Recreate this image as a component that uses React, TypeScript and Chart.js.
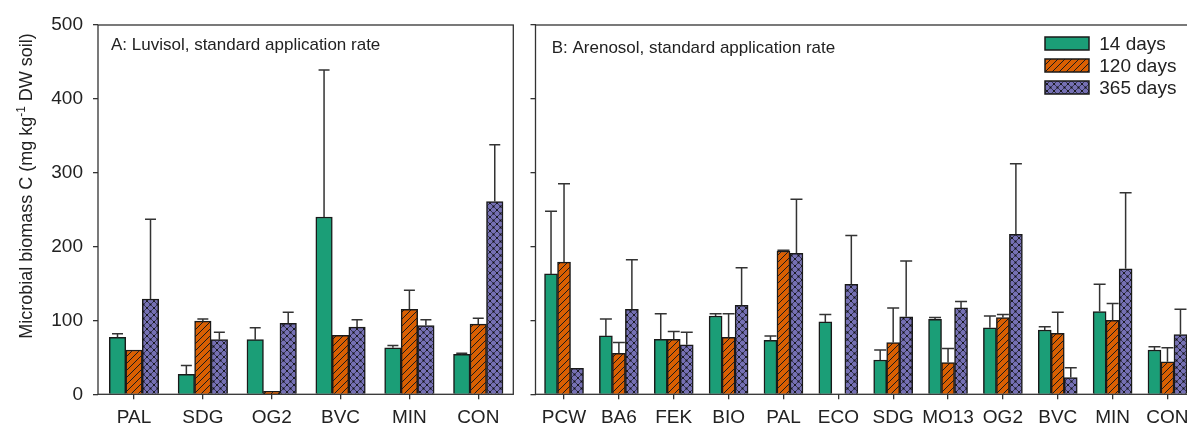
import React, { useEffect, useRef } from 'react';
import { Chart, registerables } from 'chart.js';

Chart.register(...registerables);

const FONT = '"Liberation Sans", Arial, Helvetica, sans-serif';

const SERIES = ['14 days', '120 days', '365 days'];
const Y_TICKS = [0, 100, 200, 300, 400, 500];

// Panel A: Luvisol
const LUV_CATS = ['PAL', 'SDG', 'OG2', 'BVC', 'MIN', 'CON'];
const LUV_D14 = [77, 27, 74, 240, 63, 54];
const LUV_D14_ERR = [5, 12, 16, 199, 3, 1.5];
const LUV_D120 = [60, 99, 4, 80, 115, 95];
const LUV_D120_ERR = [0, 3, 0, 0, 26, 8];
const LUV_D365 = [129, 74, 96, 91, 93, 261];
const LUV_D365_ERR = [108, 10, 15, 10, 8, 77];

// Panel B: Arenosol
const ARE_CATS = ['PCW', 'BA6', 'FEK', 'BIO', 'PAL', 'ECO', 'SDG', 'MO13', 'OG2', 'BVC', 'MIN', 'CON'];
const ARE_D14 = [163, 79, 74.5, 106, 73, 98, 46.5, 101.5, 90, 87, 112, 60];
const ARE_D14_ERR = [85, 23, 34.5, 3, 6, 10, 13.5, 2.5, 16, 4.6, 37, 4.5];
const ARE_D120 = [179, 55.5, 74.5, 77, 194, null, 70, 43, 104, 82.6, 100, 44];
const ARE_D120_ERR = [106, 14.5, 10.5, 32, 1, 0, 47, 19, 4, 28.4, 23, 19];
const ARE_D365 = [35, 115, 67, 120.5, 191, 149, 105, 117, 216.6, 22.6, 170, 81];
const ARE_D365_ERR = [0, 67, 17, 51, 73, 66, 75.5, 8.5, 95.4, 13.4, 103, 34];

const GREEN = '#1b9e77';
const ORANGE = '#d95f02';
const PURPLE = '#7570b3';

function makeHatch(color: string) {
  const s = 7;
  const c = document.createElement('canvas');
  c.width = s; c.height = s;
  const g = c.getContext('2d')!;
  g.fillStyle = color; g.fillRect(0, 0, s, s);
  g.strokeStyle = '#1a1a1a'; g.lineWidth = 1;
  g.beginPath();
  g.moveTo(-1, s + 1); g.lineTo(s + 1, -1);
  g.moveTo(-1, 1); g.lineTo(1, -1);
  g.moveTo(s - 1, s + 1); g.lineTo(s + 1, s - 1);
  g.stroke();
  return g.createPattern(c, 'repeat')!;
}

function makeCross(color: string) {
  const s = 7;
  const c = document.createElement('canvas');
  c.width = s; c.height = s;
  const g = c.getContext('2d')!;
  g.fillStyle = color; g.fillRect(0, 0, s, s);
  g.strokeStyle = '#2a2a40'; g.lineWidth = 0.8;
  g.beginPath();
  g.moveTo(-1, s + 1); g.lineTo(s + 1, -1);
  g.moveTo(-1, 1); g.lineTo(1, -1);
  g.moveTo(s - 1, s + 1); g.lineTo(s + 1, s - 1);
  g.moveTo(-1, -1); g.lineTo(s + 1, s + 1);
  g.moveTo(s - 1, -1); g.lineTo(s + 1, 1);
  g.moveTo(-1, s - 1); g.lineTo(1, s + 1);
  g.stroke();
  g.fillStyle = '#111';
  const pts = [[s / 2, s / 2], [0, 0], [s, 0], [0, s], [s, s]];
  pts.forEach(([x, y]) => { g.beginPath(); g.arc(x, y, 1, 0, Math.PI * 2); g.fill(); });
  return g.createPattern(c, 'repeat')!;
}

const errPlugin = {
  id: 'errbars',
  afterDatasetsDraw(chart: any, _a: any, o: any) {
    const { ctx } = chart;
    const ys = chart.scales.y;
    ctx.save();
    ctx.strokeStyle = '#333';
    ctx.lineWidth = 1.5;
    chart.data.datasets.forEach((ds: any, di: number) => {
      const meta = chart.getDatasetMeta(di);
      const errs = o.errors[di];
      meta.data.forEach((bar: any, i: number) => {
        const v = ds.data[i].y;
        const e = errs[i];
        if (v == null || !e) return;
        const top = ys.getPixelForValue(v + e);
        ctx.beginPath();
        ctx.moveTo(bar.x, bar.y);
        ctx.lineTo(bar.x, top);
        ctx.moveTo(bar.x - o.cap / 2, top);
        ctx.lineTo(bar.x + o.cap / 2, top);
        ctx.stroke();
      });
    });
    ctx.restore();
  },
};

const decorPlugin = {
  id: 'decor',
  afterDraw(chart: any, _a: any, o: any) {
    const { ctx, chartArea: ca } = chart;
    ctx.save();
    ctx.strokeStyle = '#333';
    ctx.lineWidth = 1.3;
    ctx.strokeRect(ca.left, ca.top, ca.right - ca.left, ca.bottom - ca.top);

    ctx.fillStyle = '#222';
    ctx.font = `17px ${FONT}`;
    ctx.textAlign = 'left';
    ctx.textBaseline = 'alphabetic';
    ctx.fillText(o.label, o.labelX, o.labelY);

    if (o.yTitle) {
      const segs = [
        { t: 'Microbial biomass C (mg kg', f: `18px ${FONT}`, dy: 0 },
        { t: '-1', f: `12px ${FONT}`, dy: -7 },
        { t: ' DW soil)', f: `18px ${FONT}`, dy: 0 },
      ];
      let total = 0;
      segs.forEach((s) => { ctx.font = s.f; total += ctx.measureText(s.t).width; });
      ctx.translate(o.yTitleX, o.yTitleY);
      ctx.rotate(-Math.PI / 2);
      let u = -total / 2;
      segs.forEach((s) => {
        ctx.font = s.f;
        ctx.fillText(s.t, u, s.dy);
        u += ctx.measureText(s.t).width;
      });
      ctx.setTransform(1, 0, 0, 1, 0, 0);
    }

    if (o.legend) {
      const L = o.legend;
      chart.data.datasets.forEach((ds: any, i: number) => {
        const y = L.y + i * L.dy;
        ctx.fillStyle = ds.backgroundColor;
        ctx.fillRect(L.x, y, L.w, L.h);
        ctx.strokeStyle = '#1a1a1a';
        ctx.lineWidth = 1.5;
        ctx.strokeRect(L.x, y, L.w, L.h);
        ctx.fillStyle = '#222';
        ctx.font = `19px ${FONT}`;
        ctx.textBaseline = 'middle';
        ctx.fillText(ds.label, L.tx, y + L.h / 2 + 1);
      });
    }
    ctx.restore();
  },
};

function buildConfig(p: any, pats: any[]) {
  const toXY = (arr: (number | null)[]) => arr.map((v, i) => ({ x: i + 1, y: v }));
  const values = [p.d14, p.d120, p.d365];
  return {
    type: 'bar' as const,
    data: {
      datasets: SERIES.map((name, k) => ({
        label: name,
        data: toXY(values[k]),
        backgroundColor: pats[k],
        borderColor: '#1a1a1a',
        borderWidth: 1.5,
        barThickness: p.barW,
        grouped: true,
      })),
    },
    options: {
      animation: false,
      responsive: false,
      maintainAspectRatio: false,
      devicePixelRatio: 1,
      layout: { padding: { left: 0, right: p.padRight, top: 25, bottom: 0 } },
      plugins: {
        legend: { display: false },
        tooltip: { enabled: false },
        errbars: { errors: [p.e14, p.e120, p.e365], cap: p.cap },
        decor: {
          label: p.label, labelX: p.labelX, labelY: p.labelY,
          yTitle: p.yTitle, yTitleX: 32, yTitleY: 186,
          legend: p.legend,
        },
      },
      scales: {
        x: {
          type: 'linear',
          min: p.xMin,
          max: p.xMax,
          offset: false,
          border: { display: false },
          grid: { display: true, offset: false, drawOnChartArea: false, drawTicks: true, tickLength: 5, color: '#333', lineWidth: 1.3 },
          afterBuildTicks: (s: any) => { s.ticks = p.cats.map((_: string, i: number) => ({ value: i + 1 })); },
          afterFit: (s: any) => { s.height = 32.7; },
          ticks: {
            autoSkip: false,
            maxRotation: 0,
            minRotation: 0,
            padding: 7,
            color: '#222',
            font: { family: FONT, size: 19 },
            callback: (v: number) => p.cats[Math.round(v) - 1] ?? '',
          },
        },
        y: {
          type: 'linear',
          min: 0,
          max: 500,
          border: { display: false },
          grid: { display: true, drawOnChartArea: false, drawTicks: true, tickLength: 5, color: '#333', lineWidth: 1.3 },
          afterBuildTicks: (s: any) => { s.ticks = Y_TICKS.map((v) => ({ value: v })); },
          afterFit: (s: any) => { s.width = p.yAxisW; },
          ticks: {
            display: p.showYLabels,
            padding: 10,
            color: '#222',
            font: { family: FONT, size: 19 },
          },
        },
      },
    },
    plugins: [errPlugin, decorPlugin],
  };
}

export default function App() {
  const leftRef = useRef<HTMLCanvasElement>(null);
  const rightRef = useRef<HTMLCanvasElement>(null);

  useEffect(() => {
    const pats = [GREEN, makeHatch(ORANGE), makeCross(PURPLE)];
    const left = new Chart(leftRef.current!, buildConfig({
      cats: LUV_CATS,
      d14: LUV_D14, d120: LUV_D120, d365: LUV_D365,
      e14: LUV_D14_ERR, e120: LUV_D120_ERR, e365: LUV_D365_ERR,
      xMin: 0.477, xMax: 6.509, barW: 16.5, cap: 11,
      yAxisW: 98, padRight: 8.7, showYLabels: true,
      label: 'A: Luvisol, standard application rate', labelX: 111, labelY: 49.5,
      yTitle: true, legend: null,
    }, pats) as any);
    const right = new Chart(rightRef.current!, buildConfig({
      cats: ARE_CATS,
      d14: ARE_D14, d120: ARE_D120, d365: ARE_D365,
      e14: ARE_D14_ERR, e120: ARE_D120_ERR, e365: ARE_D365_ERR,
      xMin: 0.48, xMax: 12.52, barW: 13, cap: 12,
      yAxisW: 13.5, padRight: 26, showYLabels: false,
      label: 'B: Arenosol, standard application rate', labelX: 29.7, labelY: 52.7,
      yTitle: false,
      legend: { x: 523, y: 37, dy: 22, w: 44, h: 13, tx: 577.3 },
    }, pats) as any);
    return () => { left.destroy(); right.destroy(); };
  }, []);

  return (
    <div style={{ position: 'fixed', left: 0, top: 0, width: 1187, height: 427, overflow: 'hidden', background: '#fff' }}>
      <canvas ref={leftRef} width={522} height={427}
        style={{ position: 'absolute', left: 0, top: 0, width: 522, height: 427 }} />
      <canvas ref={rightRef} width={700} height={427}
        style={{ position: 'absolute', left: 522, top: 0, width: 700, height: 427 }} />
    </div>
  );
}
